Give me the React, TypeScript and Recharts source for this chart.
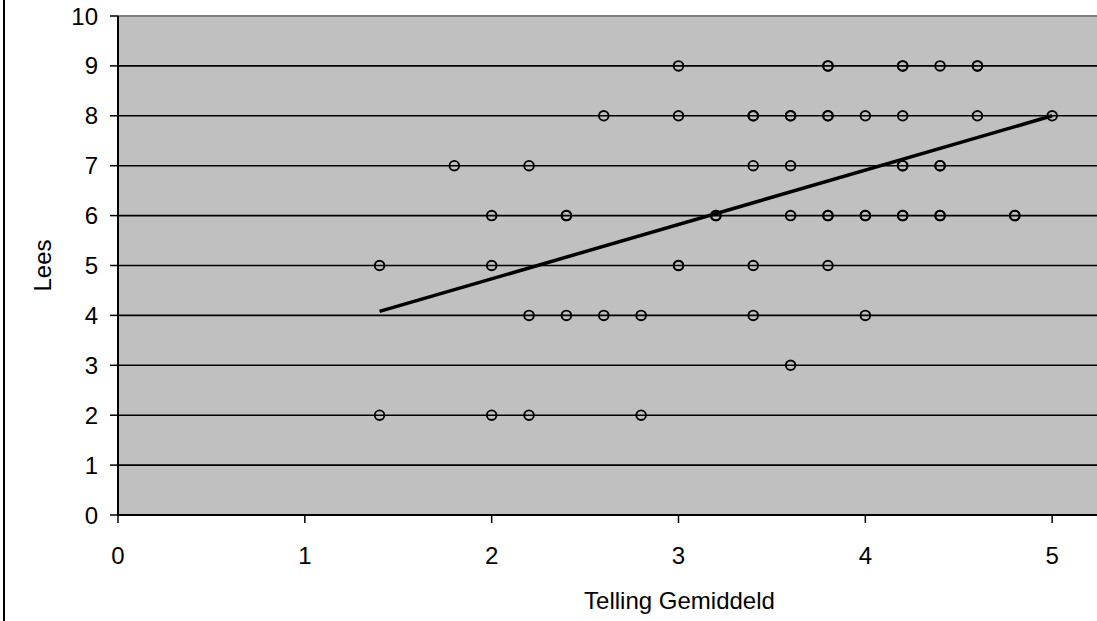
import {
  ScatterChart, Scatter, XAxis, YAxis, CartesianGrid, ReferenceLine,
} from 'recharts'

// Telling Gemiddeld (x) per Lees score (y); repeated values = overlapping pupils
const lees9 = [3.0, 3.8, 3.8, 4.2, 4.2, 4.4, 4.6, 4.6]
const lees8 = [2.6, 3.0, 3.4, 3.4, 3.6, 3.6, 3.8, 3.8, 4.0, 4.2, 4.6, 5.0]
const lees7 = [1.8, 2.2, 3.4, 3.6, 4.2, 4.2, 4.4, 4.4]
const lees6 = [2.0, 2.4, 2.4, 3.2, 3.2, 3.6, 3.8, 3.8, 4.0, 4.0, 4.2, 4.2, 4.4, 4.4, 4.8, 4.8]
const lees5 = [1.4, 2.0, 3.0, 3.0, 3.4, 3.8]
const lees4 = [2.2, 2.4, 2.6, 2.8, 3.4, 4.0]
const lees3 = [3.6]
const lees2 = [1.4, 2.0, 2.2, 2.8]

const rows: [number, number[]][] = [
  [9, lees9], [8, lees8], [7, lees7], [6, lees6],
  [5, lees5], [4, lees4], [3, lees3], [2, lees2],
]

const trendX = [1.4, 5.0]
const trendY = [4.08, 8.0]

const xTicks = [0, 1, 2, 3, 4, 5]
const yTicks = [0, 1, 2, 3, 4, 5, 6, 7, 8, 9, 10]

const points = rows.flatMap(([y, xs]) => xs.map(x => ({ x, y })))
const trend = trendX.map((x, i) => ({ x, y: trendY[i] }))

const font = '"Liberation Sans", Arial, sans-serif'
const tickStyle = { fill: '#000', fontSize: 24, fontFamily: font }

const Ring = (p: any) => (
  <circle cx={p.cx} cy={p.cy} r={4.8} fill="none" stroke="#000" strokeWidth={1.9} />
)

export default function App() {
  return (
    <div style={{ position: 'absolute', left: 0, top: 0, width: 1097, height: 621, background: '#fff' }}>
      <div style={{ position: 'absolute', left: 3, top: 0, width: 2, height: 621, background: '#000' }} />
      <ScatterChart width={1097} height={621} margin={{ top: 16, right: 0, bottom: 0, left: 0 }}>
        <CartesianGrid vertical={false} stroke="#000" strokeWidth={1.6} fill="#c0c0c0" fillOpacity={1} />
        <XAxis
          type="number" dataKey="x" domain={[0, 5.24]} ticks={xTicks} allowDataOverflow
          height={106} tickSize={8} tickMargin={24} tick={tickStyle}
          axisLine={{ stroke: '#000', strokeWidth: 2 }} tickLine={{ stroke: '#000', strokeWidth: 1.5 }}
          label={{
            content: (props: any) => {
              const vb = props.viewBox
              return (
                <text x={vb.x + vb.width / 2 + 72} y={609} textAnchor="middle"
                  fontSize={24} fontFamily={font} fill="#000">
                  Telling Gemiddeld
                </text>
              )
            },
          }}
        />
        <YAxis
          type="number" dataKey="y" domain={[0, 10]} ticks={yTicks} allowDataOverflow
          width={118} tickSize={8} tickMargin={12} tick={tickStyle}
          axisLine={{ stroke: '#000', strokeWidth: 2 }} tickLine={{ stroke: '#000', strokeWidth: 1.5 }}
          label={{
            content: (props: any) => {
              const vb = props.viewBox
              const cy = vb.y + vb.height / 2
              return (
                <text x={42} y={cy} textAnchor="middle" dominantBaseline="central"
                  transform={`rotate(-90 42 ${cy})`}
                  fontSize={24} fontFamily={font} fill="#000">
                  Lees
                </text>
              )
            },
          }}
        />
        <ReferenceLine y={10} stroke="#808080" strokeWidth={2} />
        <Scatter data={points} shape={Ring} isAnimationActive={false} />
        <Scatter
          data={trend} line={{ stroke: '#000', strokeWidth: 3.5 }} lineType="joint"
          shape={() => <g />} isAnimationActive={false}
        />
      </ScatterChart>
    </div>
  )
}
